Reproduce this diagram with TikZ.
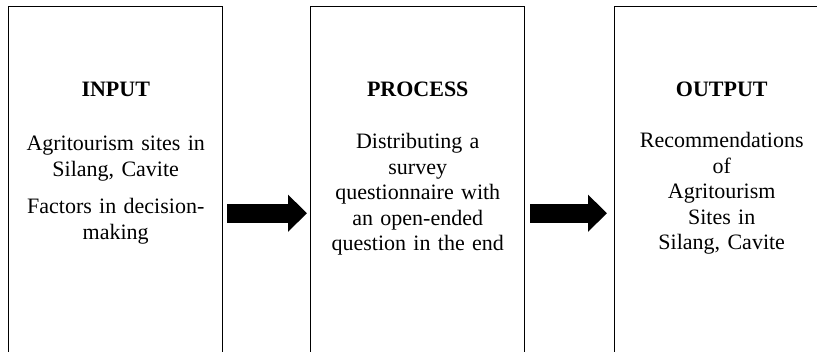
\documentclass[tikz,border=0pt]{standalone}
\usepackage{fontspec}
\setmainfont{Liberation Serif}
\usetikzlibrary{arrows.meta,positioning,calc}

\begin{document}
\begin{tikzpicture}[x=0.75pt, y=-0.75pt, >=Latex,
  ipobox/.style={draw, line width=1.1pt, minimum width=160.5pt, minimum height=309.75pt, anchor=north west, inner sep=0pt},
  ipohead/.style={font=\fontsize{16.5}{19.1}\selectfont\bfseries, inner sep=0pt, anchor=base},
  ipotext/.style={font=\fontsize{16.5}{19.1}\selectfont, align=center, text width=150pt, inner sep=0pt, anchor=base},
  blockarrow/.style={line width=14.5pt, -{Triangle[length=14.25pt, width=27pt]}}]
  \useasboundingbox (0,0) rectangle (817,352);
  \clip (0,0) rectangle (817,352);
  % the three boxes run past the lower edge
  \node[ipobox](inbox) at (8,6){};
  \node[ipobox](procbox) at (310,6){};
  \node[ipobox](outbox) at (614,6){};
  \node[ipohead](intitle) at ($(inbox.north)+(0,91)$){INPUT};
  \node[ipotext](intext) at ($(inbox.north)+(0,145)$){Agritourism sites in\\Silang, Cavite\\[9pt]Factors in decision-\\making};
  \node[ipohead](proctitle) at ($(procbox.north)+(0,91)$){PROCESS};
  \node[ipotext](proctext) at ($(procbox.north)+(0,143)$){Distributing a\\survey\\questionnaire with\\an open-ended\\question in the end};
  \node[ipohead](outtitle) at ($(outbox.north)+(0,91)$){OUTPUT};
  \node[ipotext](outtext) at ($(outbox.north)+(0,142)$){Recommendations\\of\\Agritourism\\Sites in\\Silang, Cavite};
  \foreach \a/\b/\s/\e in {inbox/procbox/3/2.25,procbox/outbox/3.75/5.25}{\draw[blockarrow, shorten <=\s pt, shorten >=\e pt](\a)--(\b);}
\end{tikzpicture}
\end{document}
